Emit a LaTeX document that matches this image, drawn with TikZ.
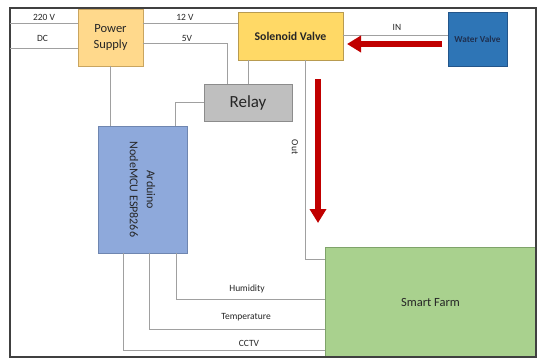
\documentclass[tikz,border=0pt]{standalone}
\usepackage{fontspec}
\setmainfont{Carlito}
\usetikzlibrary{arrows.meta}
\definecolor{framec}{HTML}{404040}
\definecolor{linec}{HTML}{A0A0A0}
\definecolor{psfill}{HTML}{FFD98C}
\definecolor{psdraw}{HTML}{C9A560}
\definecolor{svfill}{HTML}{FFD966}
\definecolor{svdraw}{HTML}{B89B50}
\definecolor{rlfill}{HTML}{BFBFBF}
\definecolor{rldraw}{HTML}{8C8C8C}
\definecolor{arfill}{HTML}{8EA9DB}
\definecolor{ardraw}{HTML}{6F86B0}
\definecolor{wvfill}{HTML}{2E75B6}
\definecolor{wvdraw}{HTML}{23558A}
\definecolor{wvtext}{HTML}{1F3050}
\definecolor{sffill}{HTML}{A9D18E}
\definecolor{sfdraw}{HTML}{7FA36A}
\definecolor{redc}{HTML}{C00000}
\definecolor{txt}{HTML}{262626}
\tikzset{
  box/.style={draw, line width=0.8pt, inner sep=0pt, align=center, text=txt},
  conn/.style={draw=linec, line width=1pt},
  lbl/.style={font=\fontsize{9.5}{10}\selectfont, text=txt, inner sep=0pt},
  flow/.style={draw=redc, line width=6.5pt, -{Triangle[length=14pt,width=16pt]}},
}
\begin{document}
\begin{tikzpicture}[x=1pt,y=-1pt]
\useasboundingbox (0,0) rectangle (539,360);
\fill[white] (0,0) rectangle (539,360);
% boxes
\node[box, fill=psfill, draw=psdraw, minimum width=65pt, minimum height=57pt,
  font=\fontsize{12.5}{16}\selectfont] (ps) at (110.5,37.5) {Power\\Supply};
\node[box, fill=svfill, draw=svdraw, minimum width=105pt, minimum height=48pt,
  font=\bfseries\fontsize{11.8}{14}\selectfont] (sv) at (290.5,36) {Solenoid Valve};
\node[box, fill=rlfill, draw=rldraw, minimum width=88pt, minimum height=37pt,
  font=\fontsize{17}{19}\selectfont] (rl) at (248,102.5) {Relay};
\node[box, fill=arfill, draw=ardraw, minimum width=89pt, minimum height=127pt] (ar) at (142.5,189.5) {};
\node[font=\fontsize{12}{17}\selectfont, text=txt, rotate=-90, align=center] (art) at (ar.center) {Arduino\\NodeMCU ESP8266};
\node[box, fill=wvfill, draw=wvdraw, minimum width=59pt, minimum height=54pt,
  font=\bfseries\fontsize{9.2}{11}\selectfont, text=wvtext] (wv) at (477.5,39) {Water Valve};
\node[box, fill=sffill, draw=sfdraw, minimum width=211pt, minimum height=110pt,
  font=\fontsize{12.5}{14}\selectfont] (sf) at (430.5,302) {Smart Farm};
% frame
\draw[framec, line width=1.2pt] (10,8) rectangle (536,357);
% free ends
\coordinate (in220) at (10,23);
\coordinate (indc) at (10,48);
\coordinate (p5) at (143,43);
\coordinate (fa) at (442,44);
\coordinate (fb) at (347,44);
\coordinate (fc) at (318,79);
\coordinate (fd) at (318,223);
% connectors
\draw[conn] (in220) -- (in220 -| ps.west);
\draw[conn] (indc) -- (indc -| ps.west);
\draw[conn] (ps.east |- in220) -- (sv.west |- in220);
\draw[conn] (p5) -- (227,43) -- (rl.north -| 227,0);
\draw[conn] (sv.south -| 248,0) -- (rl.north -| 248,0);
\draw[conn] (ps.south) -- (ar.north -| ps.south);
\draw[conn] (rl.west) -| (ar.north -| 175,0);
\draw[conn] (sv.east |- 0,35) -- (wv.west |- 0,35);
\draw[conn] (sv.south -| 305,0) -- (305,259) -- (sf.west |- 0,259);
\draw[conn] (ar.south -| 176,0) |- (sf.west |- 0,299);
\draw[conn] (ar.south -| 149,0) |- (sf.west |- 0,329);
\draw[conn] (ar.south -| 123,0) |- (sf.west |- 0,350);
% labels
\node[lbl] (l220) at (44,17) {220 V};
\node[lbl] (ldc) at (42.5,38) {DC};
\node[lbl] (l12) at (185,17) {12 V};
\node[lbl] (l5) at (187,38) {5V};
\node[lbl] (lin) at (397,27) {IN};
\node[lbl, rotate=-90] (lout) at (295,147) {Out};
\node[lbl] (lhum) at (247,289) {Humidity};
\node[lbl] (ltemp) at (246,317) {Temperature};
\node[lbl] (lcctv) at (249,343) {CCTV};
% red flow arrows
\draw[flow] (fa) -- (fb);
\draw[flow] (fc) -- (fd);
\end{tikzpicture}
\end{document}
